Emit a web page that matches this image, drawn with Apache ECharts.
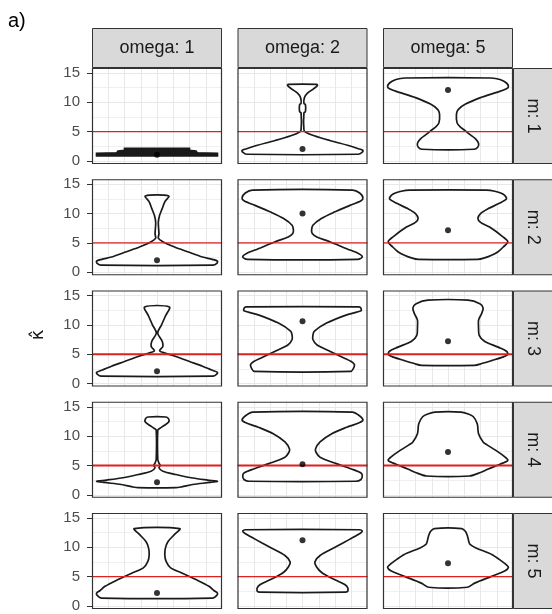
<!DOCTYPE html>
<html><head><meta charset="utf-8">
<script src="https://cdn.jsdelivr.net/npm/echarts@6/dist/echarts.min.js"></script>
<style>html,body{margin:0;padding:0;background:#fff}#c{width:552px;height:614px}</style>
</head><body><div id="c"></div>
<script>
// ---------- data ----------
const omegaLabels = ['omega: 1', 'omega: 2', 'omega: 5'];
const mLabels = ['m: 1', 'm: 2', 'm: 3', 'm: 4', 'm: 5'];
const yTicks = [0, 5, 10, 15];
const refLineValue = 5;

// mean markers, one array per m row (columns: omega 1, 2, 5)
const means_m1 = [1.05, 2.05, 12.1];
const means_m2 = [2.05, 10.0, 7.15];
const means_m3 = [2.1, 10.6, 7.2];
const means_m4 = [2.15, 5.2, 7.3];
const means_m5 = [2.2, 11.2, 7.3];

// violin half-width profiles: [kappa value, relative half width], bottom to top
const violin_m1_o1 = [[0.85,0.93],[1.3,0.93],[1.4,0.62],[1.7,0.6],[1.8,0.5],[2.15,0.5]];
const violin_m1_o2 = [[1.15,0.86],[1.5,0.92],[1.8,0.93],[2.1,0.86],[2.6,0.72],[3.5,0.42],[4.3,0.18],[4.9,0.05],[5.3,0.022],[8.2,0.022],[8.4,0.045],[9.6,0.045],[9.8,0.022],[10.8,0.03],[11.6,0.08],[12.3,0.17],[12.85,0.23],[13.05,0.22]];
const violin_m1_o5 = [[2.0,0.4],[2.4,0.46],[3.0,0.47],[3.8,0.42],[4.5,0.34],[5.2,0.26],[5.9,0.18],[6.5,0.14],[8.0,0.13],[8.8,0.16],[9.7,0.27],[10.8,0.5],[11.7,0.75],[12.3,0.9],[12.7,0.93],[13.3,0.9],[13.9,0.8],[14.15,0.66]];
const violin_m2_o1 = [[1.2,0.86],[1.5,0.92],[1.9,0.93],[2.2,0.85],[2.6,0.7],[3.5,0.47],[4.3,0.27],[5.2,0.09],[5.8,0.02],[6.5,0.03],[8.5,0.02],[9.7,0.04],[10.85,0.08],[12.0,0.12],[13.0,0.18]];
const violin_m2_o2 = [[2.2,0.85],[2.6,0.92],[3.2,0.86],[4.0,0.68],[5.2,0.42],[6.0,0.22],[6.6,0.15],[7.2,0.14],[8.0,0.16],[9.15,0.29],[10.3,0.5],[11.4,0.73],[12.2,0.9],[12.7,0.93],[13.5,0.88],[14.0,0.77]];
const violin_m2_o5 = [[2.2,0.46],[2.4,0.55],[2.9,0.67],[3.5,0.77],[4.3,0.85],[5.2,0.92],[6.0,0.85],[7.7,0.64],[8.5,0.5],[9.15,0.46],[10.0,0.5],[10.85,0.62],[11.7,0.78],[12.55,0.9],[13.3,0.85],[13.8,0.72],[14.0,0.59]];
const violin_m3_o1 = [[1.25,0.86],[1.6,0.92],[1.9,0.93],[2.3,0.84],[2.95,0.7],[3.75,0.5],[4.6,0.29],[5.3,0.09],[5.6,0.04],[6.3,0.09],[7.2,0.08],[8.6,0.01],[10.0,0.07],[11.5,0.13],[13.05,0.19]];
const violin_m3_o2 = [[2.05,0.74],[2.5,0.78],[3.2,0.8],[3.75,0.75],[4.4,0.63],[5.5,0.42],[6.6,0.22],[7.5,0.16],[8.2,0.16],[8.9,0.18],[10.3,0.37],[11.7,0.68],[12.4,0.9],[12.8,0.9],[13.05,0.87]];
const violin_m3_o5 = [[3.1,0.41],[3.4,0.52],[3.9,0.67],[4.5,0.84],[4.95,0.92],[5.5,0.9],[6.2,0.77],[7.2,0.56],[8.2,0.48],[9.5,0.47],[10.8,0.47],[12.0,0.52],[12.9,0.54],[13.6,0.49],[14.2,0.31]];
const violin_m4_o1 = [[1.2,0.29],[1.35,0.38],[1.75,0.55],[2.1,0.82],[2.3,0.93],[2.5,0.78],[2.85,0.55],[3.45,0.29],[4.0,0.09],[4.6,0.03],[5.0,0.05],[5.4,0.03],[6.0,0.012],[11.0,0.012],[11.3,0.04],[11.8,0.11],[12.4,0.18],[12.9,0.18],[13.25,0.14]];
const violin_m4_o2 = [[2.3,0.82],[2.6,0.9],[3.2,0.92],[3.7,0.9],[4.4,0.75],[5.3,0.52],[6.4,0.27],[7.2,0.21],[7.8,0.2],[9.0,0.27],[10.4,0.45],[11.5,0.68],[12.3,0.88],[12.8,0.93],[13.6,0.86],[14.1,0.77]];
const violin_m4_o5 = [[3.2,0.33],[3.8,0.5],[4.4,0.62],[5.2,0.8],[5.85,0.92],[6.4,0.88],[7.6,0.73],[8.5,0.6],[9.0,0.54],[10.4,0.47],[12.1,0.45],[13.3,0.39],[13.8,0.3],[14.1,0.2]];
const violin_m5_o1 = [[1.35,0.86],[1.8,0.92],[2.2,0.93],[2.6,0.88],[3.35,0.8],[4.5,0.6],[5.6,0.39],[6.5,0.21],[7.6,0.14],[8.75,0.12],[9.9,0.13],[11.0,0.17],[12.2,0.27],[13.2,0.35]];
const violin_m5_o2 = [[2.35,0.66],[2.6,0.7],[3.4,0.68],[4.1,0.57],[4.9,0.42],[5.75,0.29],[6.6,0.22],[7.5,0.19],[8.6,0.27],[10.0,0.5],[11.4,0.73],[12.4,0.89],[12.75,0.92],[13.0,0.88]];
const violin_m5_o5 = [[3.2,0.3],[3.9,0.41],[5.05,0.67],[6.0,0.88],[6.6,0.93],[7.0,0.9],[7.6,0.83],[8.75,0.68],[9.9,0.43],[10.5,0.34],[11.0,0.32],[11.9,0.3],[12.7,0.27],[13.2,0.21]];

const meansByRow = [means_m1, means_m2, means_m3, means_m4, means_m5];
const violinsByRow = [
  [violin_m1_o1, violin_m1_o2, violin_m1_o5],
  [violin_m2_o1, violin_m2_o2, violin_m2_o5],
  [violin_m3_o1, violin_m3_o2, violin_m3_o5],
  [violin_m4_o1, violin_m4_o2, violin_m4_o5],
  [violin_m5_o1, violin_m5_o2, violin_m5_o5]
];

// ---------- layout ----------
const panelLeft = [92, 237.5, 383];
const panelTop = [68, 179.25, 290.5, 401.75, 513];
const panelW = 130, panelH = 96;
const dataTopPad = 5, dataH = 88;
const stripTop = 28, stripH = 40, rowStripW = 41;
const FONT = 'Liberation Sans, Arial, sans-serif';

const grids = [], xAxes = [], yAxes = [], series = [], graphics = [];

for (let r = 0; r < 5; r++) {
  for (let c = 0; c < 3; c++) {
    const k = r * 3 + c;
    const a = 2 * k, b = 2 * k + 1;
    const L = panelLeft[c], T = panelTop[r];
    // frame grid (full panel, vertical grid lines)
    grids.push({left: L, top: T, width: panelW, height: panelH, show: true, backgroundColor: '#fff', borderWidth: 0});
    xAxes.push({gridIndex: a, type: 'value', min: -1, max: 1, interval: 0.25,
      axisLine: {show: false, onZero: false}, axisTick: {show: false}, axisLabel: {show: false},
      splitLine: {show: true, showMinLine: false, showMaxLine: false, lineStyle: {color: '#e8e8e8', width: 1}}});
    yAxes.push({gridIndex: a, type: 'value', min: 0, max: 1, show: false});
    // data grid (kappa 0..15)
    grids.push({left: L, top: T + dataTopPad, width: panelW, height: dataH});
    xAxes.push({gridIndex: b, type: 'value', min: -1, max: 1, show: false, axisLine: {onZero: false}});
    yAxes.push({gridIndex: b, type: 'value', position: 'left',
      min: yTicks[0], max: yTicks[yTicks.length - 1], interval: 5,
      axisLine: {show: false, onZero: false},
      axisTick: {show: c === 0, length: 5, lineStyle: {color: '#333', width: 1}},
      axisLabel: {show: c === 0, color: '#4d4d4d', fontSize: 15, fontFamily: FONT, margin: 12},
      splitLine: {show: true, lineStyle: {color: '#e8e8e8', width: 1}},
      minorTick: {show: false, splitNumber: 2},
      minorSplitLine: {show: true, lineStyle: {color: '#f0f0f0', width: 1}}});

    const prof = violinsByRow[r][c];
    const poly = prof.map(p => [p[1], p[0]]).concat(prof.slice().reverse().map(p => [-p[1], p[0]]));
    const solid = (r === 0 && c === 0);
    series.push({
      type: 'custom', xAxisIndex: b, yAxisIndex: b, z: 2, silent: true,
      data: poly, encode: {x: 0, y: 1},
      renderItem: (params, api) => {
        if (params.dataIndex !== 0) return null;
        const pts = poly.map(p => api.coord(p));
        return {type: 'polygon', shape: {points: pts, smooth: solid ? 0 : 0.3},
          style: {fill: solid ? '#1a1a1a' : '#fff', stroke: '#1a1a1a', lineWidth: 1.7}};
      }
    });
    series.push({
      type: 'line', xAxisIndex: b, yAxisIndex: b, z: 3, silent: true, symbol: 'none',
      data: [[-1, refLineValue], [1, refLineValue]],
      lineStyle: {color: '#e01f1f', width: (r === 2 || r === 3) ? 2 : 1.3}
    });
    series.push({
      type: 'scatter', xAxisIndex: b, yAxisIndex: b, z: 4, silent: true,
      data: [[0, meansByRow[r][c]]], symbol: 'circle', symbolSize: 6,
      itemStyle: {color: '#000'}
    });
    // panel border
    graphics.push({type: 'rect', z: 100, silent: true,
      shape: {x: L + 0.5, y: T + 0.5, width: panelW - 1, height: panelH - 1},
      style: {fill: null, stroke: '#333', lineWidth: 1.2}});
  }
}

// column strips
for (let c = 0; c < 3; c++) {
  graphics.push({type: 'rect', z: 90, silent: true,
    shape: {x: panelLeft[c] + 0.5, y: stripTop + 0.5, width: panelW - 1, height: stripH - 1},
    style: {fill: '#d9d9d9', stroke: '#333', lineWidth: 1}});
  graphics.push({type: 'text', z: 91, silent: true, x: panelLeft[c] + panelW / 2, y: stripTop + stripH / 2,
    style: {text: omegaLabels[c], fill: '#1a1a1a', font: '18px ' + FONT, align: 'center', verticalAlign: 'middle'}});
}
// row strips
for (let r = 0; r < 5; r++) {
  const x0 = panelLeft[2] + panelW;
  graphics.push({type: 'rect', z: 90, silent: true,
    shape: {x: x0 + 0.5, y: panelTop[r] + 0.5, width: rowStripW, height: panelH - 1},
    style: {fill: '#d9d9d9', stroke: '#333', lineWidth: 1}});
  graphics.push({type: 'text', z: 91, silent: true, x: x0 + rowStripW / 2 - 1, y: panelTop[r] + panelH / 2,
    rotation: -Math.PI / 2,
    style: {text: mLabels[r], fill: '#1a1a1a', font: '18px ' + FONT, align: 'center', verticalAlign: 'middle'}});
}
// panel tag and y title
graphics.push({type: 'text', x: 8, y: 11, silent: true,
  style: {text: 'a)', fill: '#000', font: '20px ' + FONT, align: 'left', verticalAlign: 'top'}});
graphics.push({type: 'text', x: 38, y: 335, rotation: Math.PI / 2, silent: true,
  style: {text: 'κ\u0302', fill: '#1a1a1a', font: '18px DejaVu Sans, sans-serif', align: 'center', verticalAlign: 'middle'}});

const chart = echarts.init(document.getElementById('c'), null, {renderer: 'canvas'});
chart.setOption({
  animation: false,
  backgroundColor: '#fff',
  grid: grids, xAxis: xAxes, yAxis: yAxes, series: series,
  graphic: {elements: graphics}
});
</script></body></html>
